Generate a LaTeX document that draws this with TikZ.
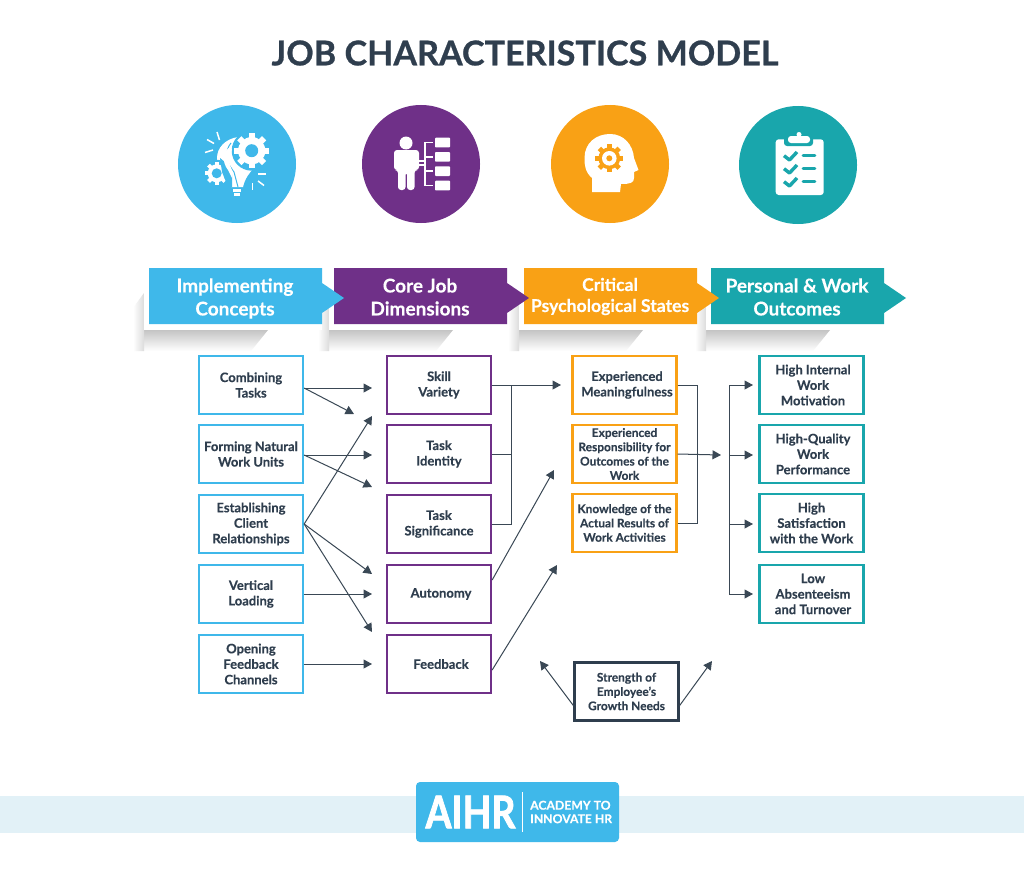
\documentclass[tikz,border=0pt]{standalone}
\usepackage{fontspec}
\setmainfont{Lato}[BoldFeatures={FakeBold=0.25}]
\newfontfamily\heavyfont{Lato}[BoldFeatures={FakeBold=2}]
\newfontfamily\titlefont{Lato}[BoldFeatures={FakeBold=0.7}]
\usetikzlibrary{arrows.meta}
\definecolor{cblue}{HTML}{3FB8EA}
\definecolor{cpurple}{HTML}{6F3088}
\definecolor{corange}{HTML}{F9A115}
\definecolor{cteal}{HTML}{19A6AC}
\definecolor{cdark}{HTML}{2F3E4E}
\definecolor{cline}{HTML}{3A4855}
\definecolor{cband}{HTML}{E2F1F7}
\definecolor{cshadow}{HTML}{C4C4C4}
\definecolor{cshadowb}{HTML}{DCDCDC}
\tikzset{
  cbox/.style={draw=#1,line width=2.3pt,fill=white,minimum width=104pt,minimum height=58pt,inner sep=0pt,align=center,text=cdark,
    font=\fontsize{13}{15.5}\selectfont\bfseries},
  smallbox/.style={cbox=#1,font=\fontsize{11.9}{14.3}\selectfont\bfseries},
  conn/.style={draw=cline,line width=1pt},
  arr/.style={conn,-{Triangle[length=8.5pt,width=9pt]}},
  hdrtext/.style={text=white,align=center,font=\fontsize{19}{23}\selectfont\bfseries},
  hdrsmall/.style={hdrtext,font=\fontsize{17.6}{21}\selectfont\bfseries},
  disc/.style={fill=#1,draw=none,circle,minimum size=118pt,inner sep=0pt}
}
\newcommand{\nudge}[1]{\hspace*{#1pt}}
\newcommand{\hdrbar}[6]{%
  \begin{scope}[shift={(#1,0)}]
    \shade[top color=cshadow,bottom color=white] (-5,330) -- (119,330) -- (102,351) -- (-5,351) -- cycle;
    \shade[left color=white,right color=cshadowb] (-16,308) -- (-5,293) -- (-5,351) -- (-16,351) -- cycle;
    \fill[white] (-5,268) rectangle (173,330);
    \fill[#2] (0,268) -- (173,268) -- (173,283) -- (195,298) -- (173,313) -- (173,324) -- (0,324) -- cycle;
    \node[#6] (#3) at (#4) {#5};
  \end{scope}}
\newcommand{\gearicon}[6]{%
  \begin{scope}[shift={(#1,#2)}]
    \fill[#6] (0,0) circle ({#3*0.78});
    \foreach \i in {1,...,#5} {\fill[#6,rotate={\i*360/#5}] (-{#3*0.17},0) rectangle ({#3*0.17},#3);}
    \ifdim #4pt>0pt \fill[white] (0,0) circle (#4);\fi
  \end{scope}}
\begin{document}
\begin{tikzpicture}[x=1pt,y=-1pt]
\useasboundingbox (0,0) rectangle (1024,880);
\fill[white] (0,0) rectangle (1024,880);

% title
\node[text=cdark,font=\titlefont\fontsize{34.1}{36}\selectfont\bfseries] (title) at (525,53) {JOB CHARACTERISTICS MODEL};

% discs
\node[disc=cblue] (d1) at (237,164) {};
\node[disc=cpurple] (d2) at (421,164) {};
\node[disc=corange] (d3) at (610,164) {};
\node[disc=cteal] (d4) at (798,165) {};

% icon 1: bulb and gears
\begin{scope}[white]
  \fill (238,137) .. controls (225,139) and (217,148) .. (217,158) .. controls (217,168) and (226,173) .. (231,187) -- (243,187) .. controls (245,178) and (250,172) .. (254,168) -- (240,150) -- cycle;
  \draw[cblue,line width=1pt] (231,143) .. controls (225,150) and (225,162) .. (234,172) -- (238,187);
  \fill (233,189) rectangle (241,191.5);
  \fill (234,193) rectangle (240,196);
  \fill[cblue] (251.7,150.7) circle (20);
  \gearicon{251.7}{150.7}{17.5}{0}{8}{white}
  \fill[cblue] (251.7,150.7) circle (6.5);
  \fill[cblue] (216.7,173.3) circle (13.5);
  \gearicon{216.7}{173.3}{11.5}{0}{8}{white}
  \fill[cblue] (216.7,173.3) circle (5);
  \fill[cblue] (220,158) -- (232,168) -- (232,187) -- (228,187) -- (222,172) -- cycle;
  \fill (230,147) .. controls (222,152) and (222,162) .. (228,170) -- (232,178) -- (233,172) .. controls (228,163) and (228,155) .. (232,150) -- cycle;
  \draw[line width=1.5pt] (207,139.5) -- (214,143.5);
  \draw[line width=1.5pt] (217,132) -- (219.5,140);
  \draw[line width=1.5pt] (205,152.5) -- (213,150);
  \draw[line width=1.5pt] (258,174) -- (266,174);
  \draw[line width=1.5pt] (258,181) -- (264,185.5);
  \draw[line width=1.5pt] (252.7,183) -- (252.7,189.5);
\end{scope}

% icon 2: person and list
\begin{scope}[white]
  \fill (406,143) circle (6.5);
  \fill[rounded corners=3pt] (394,150) -- (419,150) -- (419,170) -- (414.5,170) -- (414.5,190) -- (407,190) -- (407,172) -- (405.5,172) -- (405.5,190) -- (398,190) -- (398,170) -- (394,170) -- cycle;
  \draw[line width=1.3pt] (419,161) -- (425,161);
  \draw[line width=1.3pt] (419,165) -- (425,165);
  \draw[line width=1.3pt] (433,142.5) -- (425,142.5) -- (425,185.5) -- (433,185.5);
  \draw[line width=1.3pt] (425,157) -- (433,157);
  \draw[line width=1.3pt] (425,171) -- (433,171);
  \foreach \yy in {137.7,152,166.3,180.7} {\fill[rounded corners=0.8pt] (435,\yy) rectangle (450,\yy+9.7);}
\end{scope}

% icon 3: head and gear
\fill[white] (592,192) -- (592,178) .. controls (585,172) and (584.5,165) .. (584.5,158) .. controls (584.5,143) and (596,134) .. (610,134) .. controls (624,134) and (633,145) .. (634,158) -- (638.5,170) -- (634,172) -- (634,178) .. controls (634,183) and (630,184) .. (621,184) -- (620,192) -- cycle;
\gearicon{609.3}{158.3}{14}{0}{8}{corange}
\fill[white] (609.3,158.3) circle (7.3);
\fill[corange] (609.3,158.3) circle (3);

% icon 4: clipboard
\fill[white,rounded corners=3pt] (775.7,139.3) rectangle (823.7,195);
\fill[cteal,rounded corners=3pt] (784,136) rectangle (813,146);
\fill[white,rounded corners=3pt] (788,136) rectangle (810,143);
\fill[white] (799,134.5) circle (2.5);
\foreach \yy in {0,13,26} {
  \draw[cteal,line width=3.4pt,line join=round] (784,155.7+\yy) -- (789.5,160+\yy) -- (797,152+\yy);
  \draw[cteal,line width=2.8pt,line cap=round] (803,155.7+\yy) -- (815,155.7+\yy);
}

% headers
\hdrbar{711}{cteal}{h4}{86,297}{Personal \& Work\\Outcomes}{hdrtext}
\hdrbar{524}{corange}{h3}{86,296.5}{Critical\\Psychological States}{hdrsmall}
\hdrbar{334}{cpurple}{h2}{86,297}{Core Job\\Dimensions}{hdrtext}
\hdrbar{149}{cblue}{h1}{86,298.5}{Implementing\\Concepts}{hdrtext}

% column 1
\node[cbox=cblue] (a1) at (251,385) {Combining\\Tasks};
\node[cbox=cblue] (a2) at (251,454) {Forming Natural\\Work Units};
\node[cbox=cblue] (a3) at (251,524) {Establishing\\Client\\Relationships};
\node[cbox=cblue] (a4) at (251,594) {Vertical\\Loading};
\node[cbox=cblue] (a5) at (251,664) {Opening\\Feedback\\Channels};
% column 2
\node[cbox=cpurple] (p1) at (439,385) {Skill\\Variety};
\node[cbox=cpurple] (p2) at (439,454) {Task\\Identity};
\node[cbox=cpurple] (p3) at (439,524) {Task\\Significance};
\node[cbox=cpurple] (p4) at (439,594) {\nudge{4}Autonomy};
\node[cbox=cpurple] (p5) at (439,664) {\nudge{4}Feedback};
% column 3
\node[cbox=corange] (o1) at (624.5,385) {\nudge{5}Experienced\\\nudge{5}Meaningfulness};
\node[smallbox=corange] (o2) at (624.5,454) {Experienced\\Responsibility for\\Outcomes of the\\Work};
\node[smallbox=corange] (o3) at (624.5,523) {Knowledge of the\\Actual Results of\\Work Activities};
% column 4
\node[cbox=cteal] (t1) at (811.5,385) {\nudge{3}High Internal\\\nudge{3}Work\\\nudge{3}Motivation};
\node[cbox=cteal] (t2) at (811.5,454) {\nudge{3}High-Quality\\\nudge{3}Work\\\nudge{3}Performance};
\node[cbox=cteal] (t3) at (811.5,523) {High\\Satisfaction\\with the Work};
\node[cbox=cteal] (t4) at (811.5,594) {\nudge{3}Low\\\nudge{3}Absenteeism\\\nudge{3}and Turnover};
% moderator
\node[smallbox=cdark] (g) at (626.5,691.5) {Strength of\\Employee’s\\Growth Needs};

% free ends
\coordinate (e11) at (372,388);
\coordinate (e12) at (354,414);
\coordinate (e21) at (372,455);
\coordinate (e22) at (372,487);
\coordinate (e31) at (372,416);
\coordinate (e32) at (372,574);
\coordinate (e33) at (372,632);
\coordinate (e41) at (372,594);
\coordinate (e51) at (372,664);
\coordinate (jP) at (511,385);
\coordinate (eP) at (561,385);
\coordinate (eA) at (554,470);
\coordinate (eF) at (557,565);
\coordinate (jO) at (697,455);
\coordinate (eO) at (721,455);
\coordinate (jT) at (729,455);
\coordinate (eT1) at (753,385);
\coordinate (eT2) at (753,455);
\coordinate (eT3) at (753,524);
\coordinate (eT4) at (753,594);
\coordinate (eG1) at (540,661);
\coordinate (eG2) at (712,661);

% connectors
\draw[arr] ([yshift=-3pt]a1.east) -- (e11);
\draw[arr] ([yshift=-3pt]a1.east) -- (e12);
\draw[arr] ([yshift=-1pt]a2.east) -- (e21);
\draw[arr] ([yshift=-1pt]a2.east) -- (e22);
\draw[arr] (a3.east) -- (e31);
\draw[arr] (a3.east) -- (e32);
\draw[arr] (a3.east) -- (e33);
\draw[arr] (a4.east) -- (e41);
\draw[arr] (a5.east) -- (e51);
\draw[arr] (p1.east) -- (eP);
\draw[conn] (p2.east) -- (p2.east -| jP);
\draw[conn] (p3.east) -| (jP);
\draw[arr] ([yshift=14pt]p4.east) -- (eA);
\draw[arr] ([yshift=-6pt]p5.east) -- (eF);
\draw[conn] (o1.east) -| (jO);
\draw[conn] (o3.east) -| (jO);
\draw[arr] (o2.east) -- (eO);
\draw[arr] (jT) |- (eT1);
\draw[arr] (jT) -- (eT2);
\draw[arr] (jT) |- (eT3);
\draw[arr] (jT) |- (eT4);
\draw[arr] ([yshift=-14pt]g.west) -- (eG1);
\draw[arr] ([yshift=-14pt]g.east) -- (eG2);

% footer
\fill[cband] (0,796) rectangle (1024,833);
\fill[cblue,rounded corners=4pt] (416,782) rectangle (619,842);
\node[text=white,font=\heavyfont\fontsize{45}{45}\selectfont\bfseries,xscale=0.83] (logo) at (470.5,812) {AIHR};
\coordinate (s1) at (522.5,792);
\coordinate (s2) at (522.5,832);
\draw[white,line width=1.2pt] (s1) -- (s2);
\node[anchor=west,inner sep=0pt,text=white,align=left,font=\fontsize{12.2}{13.5}\selectfont\bfseries] (tag) at (530,812) {ACADEMY TO\\INNOVATE HR};
\end{tikzpicture}
\end{document}
